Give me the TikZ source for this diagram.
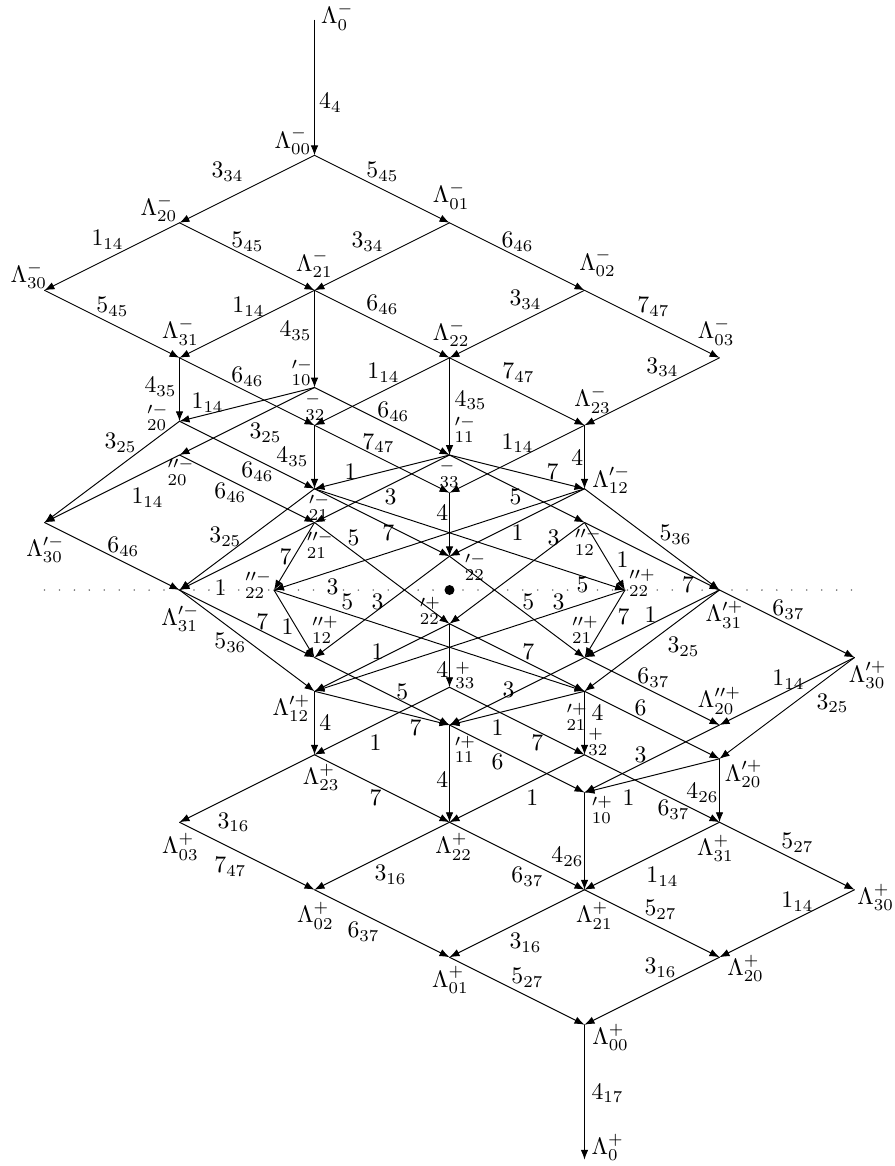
\documentclass[tikz,border=0pt]{standalone}
\usepackage{tikz}
\usetikzlibrary{calc,arrows.meta}

\begin{document}
\begin{tikzpicture}[x=2cm,y=1cm, line cap=round, line join=round]

% ---------- styles ----------
\tikzset{
  arr/.style={-{Latex[length=4.2pt,width=3.2pt]}, line width=0.4pt},
  el/.style={inner sep=0pt},
  nl/.style={inner sep=0pt},
  axisdots/.style={black!55, line width=0.75pt, dash pattern=on 0pt off 6.3pt},
}

\useasboundingbox (-3.3297,-8.533) rectangle (3.2999,8.741);

% ---------- upper half (minus) ----------
\coordinate (L0m)  at (-1,8.44);
\coordinate (L00m) at (-1,6.44);
\coordinate (L20m) at (-2,5.44);
\coordinate (L01m) at ( 0,5.44);
\coordinate (L30m) at (-3,4.44);
\coordinate (L21m) at (-1,4.44);
\coordinate (L02m) at ( 1,4.44);
\coordinate (L31m) at (-2,3.44);
\coordinate (L22m) at ( 0,3.44);
\coordinate (L03m) at ( 2,3.44);
\coordinate (L32m) at (-1,2.44);
\coordinate (L23m) at ( 1,2.44);
\coordinate (L33m) at ( 0,1.44);
% primed layer
\coordinate (P10m) at (-1,3);
\coordinate (P20m) at (-2,2.5);
\coordinate (Q20m) at (-2,2);
\coordinate (P30m) at (-3,1);
\coordinate (P11m) at ( 0,2);
\coordinate (P21m) at (-1,1.5);
\coordinate (Q21m) at (-1,1);
\coordinate (P31m) at (-2,0);
\coordinate (P12m) at ( 1,1.5);
\coordinate (Q12m) at ( 1,1);
\coordinate (P22m) at ( 0,0.5);
\coordinate (Q22m) at (-1.3,0);

% ---------- lower half (plus) ----------
\coordinate (L0p)  at ( 1,-8.44);
\coordinate (L00p) at ( 1,-6.44);
\coordinate (L20p) at ( 2,-5.44);
\coordinate (L01p) at ( 0,-5.44);
\coordinate (L30p) at ( 3,-4.44);
\coordinate (L21p) at ( 1,-4.44);
\coordinate (L02p) at (-1,-4.44);
\coordinate (L31p) at ( 2,-3.44);
\coordinate (L22p) at ( 0,-3.44);
\coordinate (L03p) at (-2,-3.44);
\coordinate (L32p) at ( 1,-2.44);
\coordinate (L23p) at (-1,-2.44);
\coordinate (L33p) at ( 0,-1.44);
% primed layer
\coordinate (P10p) at ( 1,-3);
\coordinate (P20p) at ( 2,-2.5);
\coordinate (Q20p) at ( 2,-2);
\coordinate (P30p) at ( 3,-1);
\coordinate (P11p) at ( 0,-2);
\coordinate (P21p) at ( 1,-1.5);
\coordinate (Q21p) at ( 1,-1);
\coordinate (P31p) at ( 2,0);
\coordinate (P12p) at (-1,-1.5);
\coordinate (Q12p) at (-1,-1);
\coordinate (P22p) at ( 0,-0.5);
\coordinate (Q22p) at ( 1.3,0);

% ---------- middle axis ----------
\coordinate (O)   at (0,0);
\coordinate (AxL) at (-3,0);
\coordinate (AxR) at (3.02,0);
\draw[axisdots] (AxL) -- (AxR);
\fill (O) circle (2.1pt);

% ---------- upper grid ----------
\draw[arr] (L0m) -- node[el,xshift=6.7pt,yshift=-6.3pt] {$4_{4}$} (L00m);
\draw[arr] (L00m) -- node[el,xshift=-8.2pt,yshift=7.2pt] {$3_{34}$} (L20m);
\draw[arr] (L00m) -- node[el,xshift=0.2pt,yshift=7.2pt] {$5_{45}$} (L01m);
\draw[arr] (L20m) -- node[el,xshift=-1.9pt,yshift=7pt] {$1_{14}$} (L30m);
\draw[arr] (L20m) -- node[el,xshift=0.2pt,yshift=6.1pt] {$5_{45}$} (L21m);
\draw[arr] (L01m) -- node[el,xshift=-6.1pt,yshift=6.1pt] {$3_{34}$} (L21m);
\draw[arr] (L01m) -- node[el,xshift=0.2pt,yshift=6.1pt] {$6_{46}$} (L02m);
\draw[arr] (L30m) -- node[el,xshift=0.2pt,yshift=7.2pt] {$5_{45}$} (L31m);
\draw[arr] (L21m) -- node[el,xshift=0.6pt,yshift=7.2pt] {$1_{14}$} (L31m);
\draw[arr] (L21m) -- node[el,xshift=0.2pt,yshift=8pt] {$6_{46}$} (L22m);
\draw[arr] (L02m) -- node[el,xshift=3.6pt,yshift=10.1pt] {$3_{34}$} (L22m);
\draw[arr] (L02m) -- node[el,xshift=0.6pt,yshift=7.2pt] {$7_{47}$} (L03m);
\draw[arr] (L21m) -- node[el,xshift=-8pt,yshift=3.4pt] {$4_{35}$} (P10m);
\draw[arr] (L31m) -- node[el,xshift=-8pt,yshift=1.1pt] {$4_{35}$} (P20m);
\draw[arr] (L31m) -- node[el,xshift=0.2pt,yshift=6.1pt] {$6_{46}$} (L32m);
\draw[arr] (L22m) -- node[el,xshift=0.6pt,yshift=7.8pt] {$1_{14}$} (L32m);
\draw[arr] (L22m) -- node[el,xshift=8.9pt,yshift=2.5pt] {$4_{35}$} (P11m);
\draw[arr] (L22m) -- node[el,xshift=0.6pt,yshift=7.8pt] {$7_{47}$} (L23m);
\draw[arr] (L03m) -- node[el,xshift=4.4pt,yshift=10.3pt] {$3_{34}$} (L23m);
\draw[arr] (L32m) -- node[el,xshift=-1.5pt,yshift=6.7pt] {$7_{47}$} (L33m);
\draw[arr] (L23m) -- node[el,xshift=0.2pt,yshift=6.7pt] {$1_{14}$} (L33m);
\draw[arr] (L32m) -- node[el,xshift=-9.3pt] {$4_{35}$} (P21m);
\draw[arr] (L23m) -- node[el,xshift=-3pt,yshift=-0.4pt] {$4$} (P12m);
\draw[arr] (L33m) -- node[el,xshift=-3pt,yshift=4.8pt] {$4$} (P22m);

% ---------- primed layer, upper ----------
\draw[arr] (P10m) -- node[el,xshift=-16.6pt,yshift=0.6pt] {$1_{14}$} (P20m);
\draw[arr] (P10m) -- node[el,xshift=7.8pt,yshift=-5pt] {$3_{25}$} (Q20m);
\draw[arr] (P10m) -- node[el,xshift=4.8pt,yshift=3.9pt] {$6_{46}$} (P11m);
\draw[arr] (P20m) -- node[el,xshift=3.6pt,yshift=12.2pt] {$3_{25}$} (P30m);
\draw[arr] (Q20m) -- node[el,xshift=15pt,yshift=-3.9pt] {$1_{14}$} (P30m);
\draw[arr] (P20m) -- node[el,xshift=4.4pt,yshift=-7.2pt] {$6_{46}$} (P21m);
\draw[arr] (Q20m) -- node[el,xshift=-7pt,yshift=-1.8pt] {$6_{46}$} (Q21m);
\draw[arr] (P30m) -- node[el,xshift=4.8pt,yshift=3.9pt] {$6_{46}$} (P31m);
\draw[arr] (P11m) -- node[el,xshift=-13.3pt] {$1$} (P21m);
\draw[arr] (P11m) -- node[el,xshift=3.6pt,yshift=-3.5pt] {$3$} (Q21m);
\draw[arr] (P11m) -- node[el,xshift=15pt] {$7$} (P12m);
\draw[arr] (P11m) -- node[el,xshift=-0.6pt,yshift=-3.5pt] {$5$} (Q12m);
\draw[arr] (P21m) -- node[el,xshift=-9.1pt,yshift=1pt] {$3_{25}$} (P31m);
\draw[arr] (Q21m) -- node[el,xshift=-11.2pt,yshift=-13.4pt] {$1$} (P31m);
\draw[arr] (Q21m) -- node[el,xshift=-3.7pt,yshift=-0.3pt] {$7$} (Q22m);
\draw[arr] (P21m) -- node[el,xshift=2.7pt,yshift=-4.4pt] {$7$} (P22m);
\draw[arr] (P12m) -- node[el,xshift=0.2pt,yshift=-4.4pt] {$1$} (P22m);
\draw[arr] (P12m) -- node[el,xshift=-40.8pt,yshift=-20.1pt] {$3$} (Q22m);

% ---------- crossing the axis ----------
\draw[arr] (P12m) -- node[el,xshift=9.9pt,yshift=1.9pt] {$5_{36}$} (P31p);
\draw[arr] (Q12m) -- node[el,xshift=15.2pt,yshift=-12.2pt] {$7$} (P31p);
\draw[arr] (Q12m) -- node[el,xshift=7.5pt,yshift=-1.6pt] {$1$} (Q22p);
\draw[arr] (Q12m) -- node[el,xshift=15.4pt,yshift=14.8pt] {$3$} (P22p);
\draw[arr] (Q21m) -- node[el,xshift=-12pt,yshift=14.8pt] {$5$} (P22p);
\draw[arr] (P21m) -- node[el,xshift=47.5pt,yshift=-19.2pt] {$5$} (Q22p);
\draw[arr] (P22m) -- node[el,xshift=4.8pt,yshift=2.1pt] {$5$} (Q21p);
\draw[arr] (P22m) -- node[el,xshift=-1.9pt,yshift=2.1pt] {$3$} (Q12p);
\draw[arr] (Q22m) -- node[el,xshift=-34.5pt,yshift=16.3pt] {$5$} (P21p);
\draw[arr] (Q22m) -- node[el,xshift=-2.8pt,yshift=-1.4pt] {$1$} (Q12p);
\draw[arr] (P31m) -- node[el,xshift=6.5pt,yshift=0.7pt] {$7$} (Q12p);
\draw[arr] (P31m) -- node[el,xshift=-7pt,yshift=-1pt] {$5_{36}$} (P12p);

% ---------- primed layer, lower ----------
\draw[arr] (P22p) -- node[el,xshift=-3pt,yshift=-6.1pt] {$4$} (L33p);
\draw[arr] (P22p) -- node[el,xshift=-1.9pt,yshift=2.3pt] {$1$} (P12p);
\draw[arr] (P22p) -- node[el,xshift=4.8pt,yshift=2.3pt] {$7$} (P21p);
\draw[arr] (Q22p) -- node[el,xshift=7.9pt,yshift=2.8pt] {$7$} (Q21p);
\draw[arr] (Q22p) -- node[el,xshift=37.4pt,yshift=16.3pt] {$3$} (P12p);
\draw[arr] (P31p) -- node[el,xshift=-0.6pt,yshift=3.7pt] {$1$} (Q21p);
\draw[arr] (P31p) -- node[el,xshift=13.3pt,yshift=-2.7pt] {$3_{25}$} (P21p);
\draw[arr] (P31p) -- node[el,xshift=0.6pt,yshift=5.8pt] {$6_{37}$} (P30p);
\draw[arr] (Q21p) -- node[el,xshift=0.6pt,yshift=5.6pt] {$6_{37}$} (Q20p);
\draw[arr] (P21p) -- node[el,xshift=-4.8pt,yshift=7.2pt] {$6$} (P20p);
\draw[arr] (P30p) -- node[el,xshift=0.6pt,yshift=4.7pt] {$1_{14}$} (Q20p);
\draw[arr] (P30p) -- node[el,xshift=19.2pt,yshift=2.1pt] {$3_{25}$} (P20p);
\draw[arr] (Q12p) -- node[el,xshift=8.6pt,yshift=-0.3pt] {$5$} (P11p);
\draw[arr] (P12p) -- node[el,xshift=14.1pt,yshift=-8.4pt] {$7$} (P11p);
\draw[arr] (P21p) -- node[el,xshift=-8.2pt,yshift=-8.4pt] {$1$} (P11p);
\draw[arr] (Q21p) -- node[el,xshift=-3.6pt,yshift=0.5pt] {$3$} (P11p);
\draw[arr] (P11p) -- node[el,xshift=-8.2pt,yshift=-1.4pt] {$6$} (P10p);
\draw[arr] (Q20p) -- node[el,xshift=-4.8pt,yshift=1.6pt] {$3$} (P10p);
\draw[arr] (P20p) -- node[el,xshift=-9.9pt,yshift=-9.4pt] {$1$} (P10p);

% ---------- lower grid ----------
\draw[arr] (L33p) -- node[el,xshift=-2.7pt,yshift=-9.3pt] {$1$} (L23p);
\draw[arr] (L33p) -- node[el,xshift=8.6pt,yshift=-9.3pt] {$7$} (L32p);
\draw[arr] (P12p) -- node[el,xshift=4.6pt] {$4$} (L23p);
\draw[arr] (P21p) -- node[el,xshift=5.5pt,yshift=4.2pt] {$4$} (L32p);
\draw[arr] (P11p) -- node[el,xshift=-3pt,yshift=-2.7pt] {$4$} (L22p);
\draw[arr] (L23p) -- node[el,xshift=-2.7pt,yshift=-4pt] {$7$} (L22p);
\draw[arr] (L32p) -- node[el,xshift=6.5pt,yshift=-4pt] {$1$} (L22p);
\draw[arr] (P20p) -- node[el,xshift=-7.2pt,yshift=-1.1pt] {$4_{26}$} (L31p);
\draw[arr] (L32p) -- node[el,xshift=9.1pt,yshift=-9.1pt] {$6_{37}$} (L31p);
\draw[arr] (P10p) -- node[el,xshift=-7.2pt,yshift=-6.7pt] {$4_{26}$} (L21p);
\draw[arr] (L23p) -- node[el,xshift=-5.7pt,yshift=-14.2pt] {$3_{16}$} (L03p);
\draw[arr] (L22p) -- node[el,xshift=3.6pt,yshift=-8pt] {$3_{16}$} (L02p);
\draw[arr] (L22p) -- node[el,xshift=4.4pt,yshift=-8.9pt] {$6_{37}$} (L21p);
\draw[arr] (L03p) -- node[el,xshift=-7pt,yshift=-4.6pt] {$7_{47}$} (L02p);
\draw[arr] (L31p) -- node[el,xshift=4.4pt,yshift=-8.9pt] {$1_{14}$} (L21p);
\draw[arr] (L31p) -- node[el,xshift=4.4pt,yshift=5.5pt] {$5_{27}$} (L30p);
\draw[arr] (L02p) -- node[el,xshift=-7.8pt,yshift=-3.6pt] {$6_{37}$} (L01p);
\draw[arr] (L21p) -- node[el,xshift=3.6pt,yshift=-8.2pt] {$3_{16}$} (L01p);
\draw[arr] (L21p) -- node[el,xshift=3.6pt,yshift=5.7pt] {$5_{27}$} (L20p);
\draw[arr] (L30p) -- node[el,xshift=4.4pt,yshift=9.1pt] {$1_{14}$} (L20p);
\draw[arr] (L01p) -- node[el,xshift=4.4pt,yshift=5.5pt] {$5_{27}$} (L00p);
\draw[arr] (L20p) -- node[el,xshift=3.6pt,yshift=9.7pt] {$3_{16}$} (L00p);
\draw[arr] (L00p) -- node[el,xshift=9.7pt,yshift=-0.4pt] {$4_{17}$} (L0p);

% ---------- vertex labels, upper ----------
\node[nl] at ($(L0m)+(9.6pt,1.5pt)$)    {$\Lambda^-_{0}$};
\node[nl] at ($(L00m)+(-9.1pt,6pt)$)    {$\Lambda^-_{00}$};
\node[nl] at ($(L20m)+(-8.7pt,6.1pt)$)  {$\Lambda^-_{20}$};
\node[nl] at ($(L01m)+(0.7pt,11.4pt)$)  {$\Lambda^-_{01}$};
\node[nl] at ($(L30m)+(-6.6pt,6.4pt)$)  {$\Lambda^-_{30}$};
\node[nl] at ($(L21m)+(0pt,11.1pt)$)    {$\Lambda^-_{21}$};
\node[nl] at ($(L02m)+(5.5pt,11.5pt)$)  {$\Lambda^-_{02}$};
\node[nl] at ($(L31m)+(0.4pt,11pt)$)    {$\Lambda^-_{31}$};
\node[nl] at ($(L22m)+(0.7pt,10.3pt)$)  {$\Lambda^-_{22}$};
\node[nl] at ($(L03m)+(-1.4pt,11pt)$)   {$\Lambda^-_{03}$};
\node[nl] at ($(L23m)+(3.4pt,10.7pt)$)  {$\Lambda^-_{23}$};
\node[nl] at ($(P10m)+(-5.1pt,6.5pt)$)  {$^{\prime-}_{10}$};
\node[nl] at ($(P20m)+(-9.1pt,1.7pt)$)  {$^{\prime-}_{20}$};
\node[nl] at ($(L32m)+(0.4pt,7.8pt)$)   {$^{-}_{32}$};
\node[nl] at ($(Q20m)+(0.7pt,-7pt)$)    {$^{\prime\prime-}_{20}$};
\node[nl] at ($(P11m)+(6.7pt,10.8pt)$)  {$^{\prime-}_{11}$};
\node[nl] at ($(P21m)+(2.2pt,-7.8pt)$)  {$^{\prime-}_{21}$};
\node[nl] at ($(L33m)+(0.1pt,7.9pt)$)   {$^{-}_{33}$};
\node[nl] at ($(P12m)+(11.3pt,3.7pt)$)  {$\Lambda^{\prime-}_{12}$};
\node[nl] at ($(Q21m)+(2.5pt,-9.5pt)$)  {$^{\prime\prime-}_{21}$};
\node[nl] at ($(Q12m)+(1.6pt,-8.1pt)$)  {$^{\prime\prime-}_{12}$};
\node[nl] at ($(P22m)+(11pt,-4.4pt)$)   {$^{\prime-}_{22}$};
\node[nl] at ($(P30m)+(0.4pt,-11.3pt)$) {$\Lambda^{\prime-}_{30}$};
\node[nl] at ($(P31m)+(0.4pt,-11.9pt)$) {$\Lambda^{\prime-}_{31}$};
\node[nl] at ($(Q22m)+(-6.5pt,2.1pt)$)  {$^{\prime\prime-}_{22}$};

% ---------- vertex labels, lower ----------
\node[nl] at ($(Q22p)+(7.4pt,3pt)$)     {$^{\prime\prime+}_{22}$};
\node[nl] at ($(P31p)+(2.1pt,-10.5pt)$) {$\Lambda^{\prime+}_{31}$};
\node[nl] at ($(P30p)+(5.6pt,-7.4pt)$)  {$\Lambda^{\prime+}_{30}$};
\node[nl] at ($(Q12p)+(4.6pt,11.6pt)$)  {$^{\prime\prime+}_{12}$};
\node[nl] at ($(P22p)+(-8pt,5.5pt)$)    {$^{\prime+}_{22}$};
\node[nl] at ($(Q21p)+(0.4pt,11.6pt)$)  {$^{\prime\prime+}_{21}$};
\node[nl] at ($(P12p)+(-9.7pt,-7.1pt)$) {$\Lambda^{\prime+}_{12}$};
\node[nl] at ($(L33p)+(6.7pt,5.1pt)$)   {$^{+}_{33}$};
\node[nl] at ($(P21p)+(-3.1pt,-10.7pt)$) {$^{\prime+}_{21}$};
\node[nl] at ($(Q20p)+(0pt,10.2pt)$)    {$\Lambda^{\prime\prime+}_{20}$};
\node[nl] at ($(P11p)+(6.7pt,-10.2pt)$) {$^{\prime+}_{11}$};
\node[nl] at ($(L23p)+(2.8pt,-9.5pt)$)  {$\Lambda^+_{23}$};
\node[nl] at ($(L32p)+(5.9pt,5.4pt)$)   {$^{+}_{32}$};
\node[nl] at ($(P20p)+(10.2pt,-6.4pt)$) {$\Lambda^{\prime+}_{20}$};
\node[nl] at ($(P10p)+(7.6pt,-7.4pt)$)  {$^{\prime+}_{10}$};
\node[nl] at ($(L22p)+(1.8pt,-10.3pt)$) {$\Lambda^+_{22}$};
\node[nl] at ($(L03p)+(0.4pt,-10.3pt)$) {$\Lambda^+_{03}$};
\node[nl] at ($(L31p)+(-1.7pt,-11pt)$)  {$\Lambda^+_{31}$};
\node[nl] at ($(L02p)+(0.4pt,-11pt)$)   {$\Lambda^+_{02}$};
\node[nl] at ($(L21p)+(4.2pt,-11pt)$)   {$\Lambda^+_{21}$};
\node[nl] at ($(L30p)+(8.9pt,-3.2pt)$)  {$\Lambda^+_{30}$};
\node[nl] at ($(L01p)+(0.4pt,-9.6pt)$)  {$\Lambda^+_{01}$};
\node[nl] at ($(L20p)+(11pt,-4.7pt)$)   {$\Lambda^+_{20}$};
\node[nl] at ($(L00p)+(11pt,-5.3pt)$)   {$\Lambda^+_{00}$};
\node[nl] at ($(L0p)+(9.8pt,5.2pt)$)    {$\Lambda^+_{0}$};

\end{tikzpicture}
\end{document}
